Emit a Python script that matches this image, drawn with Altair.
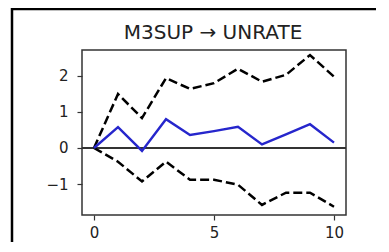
import altair as alt
import pandas as pd

steps = list(range(11))
irf = [0.0, 0.58, -0.08, 0.80, 0.36, 0.47, 0.59, 0.10, 0.38, 0.66, 0.15]
upper = [0.0, 1.50, 0.83, 1.94, 1.64, 1.80, 2.20, 1.84, 2.03, 2.58, 1.98]
lower = [0.0, -0.38, -0.93, -0.38, -0.88, -0.88, -1.02, -1.58, -1.24, -1.24, -1.63]
x_ticks = [0, 5, 10]
y_ticks = [-1, 0, 1, 2]
title_text = "M3SUP → UNRATE"

df = pd.DataFrame({"step": steps, "irf": irf})
bands = pd.DataFrame({
    "step": steps + steps,
    "value": upper + lower,
    "band": ["upper"] * len(steps) + ["lower"] * len(steps),
})

FONT = "DejaVu Sans"
xs = alt.Scale(domain=[-0.5, 10.5], nice=False, zero=False)
ys = alt.Scale(domain=[-1.86, 2.72], nice=False, zero=False)

xax = alt.Axis(values=x_ticks, grid=False, domain=False, tickSize=5, tickColor="#333",
               tickWidth=1.2, labelFontSize=15, labelFont=FONT, labelColor="#222",
               labelPadding=5, title=None)
yax = alt.Axis(values=y_ticks, grid=False, domain=False, tickSize=5, tickColor="#333",
               tickWidth=1.2, labelFontSize=15, labelFont=FONT, labelColor="#222",
               labelPadding=9, title=None)

W, H = 264, 165
PAD = {"left": 74, "top": 42, "right": 30, "bottom": 27}

one = pd.DataFrame({"label": [title_text]})

border_top = alt.Chart(one).mark_rule(color="black", strokeWidth=2.5).encode(
    x=alt.value(-71), x2=alt.value(W + PAD["right"]), y=alt.value(-41)
)
border_left = alt.Chart(one).mark_rule(color="black", strokeWidth=2.5).encode(
    x=alt.value(-70), y=alt.value(-42), y2=alt.value(H + PAD["bottom"])
)

title = alt.Chart(one).mark_text(
    font=FONT, fontSize=20, color="#222", baseline="alphabetic", align="center"
).encode(x=alt.value(131), y=alt.value(-11), text="label:N")

zero = alt.Chart(pd.DataFrame({"y": [0]})).mark_rule(color="#333", strokeWidth=2).encode(
    y=alt.Y("y:Q", scale=ys, axis=yax)
)

band_lines = alt.Chart(bands).mark_line(color="black", strokeWidth=2.5, strokeDash=[9, 4]).encode(
    x=alt.X("step:Q", scale=xs, axis=xax),
    y=alt.Y("value:Q", scale=ys, axis=yax),
    detail="band:N",
)

irf_line = alt.Chart(df).mark_line(color="#2626cc", strokeWidth=2.4).encode(
    x=alt.X("step:Q", scale=xs, axis=xax),
    y=alt.Y("irf:Q", scale=ys, axis=yax),
)

chart = alt.layer(border_top, border_left, title, zero, band_lines, irf_line).properties(
    width=W,
    height=H,
    background="white",
    autosize=alt.AutoSizeParams(type="none"),
    padding=PAD,
).configure_view(stroke="#333", strokeWidth=1.5)

chart.save("out.html", embed_options={"renderer": "svg", "actions": False})
